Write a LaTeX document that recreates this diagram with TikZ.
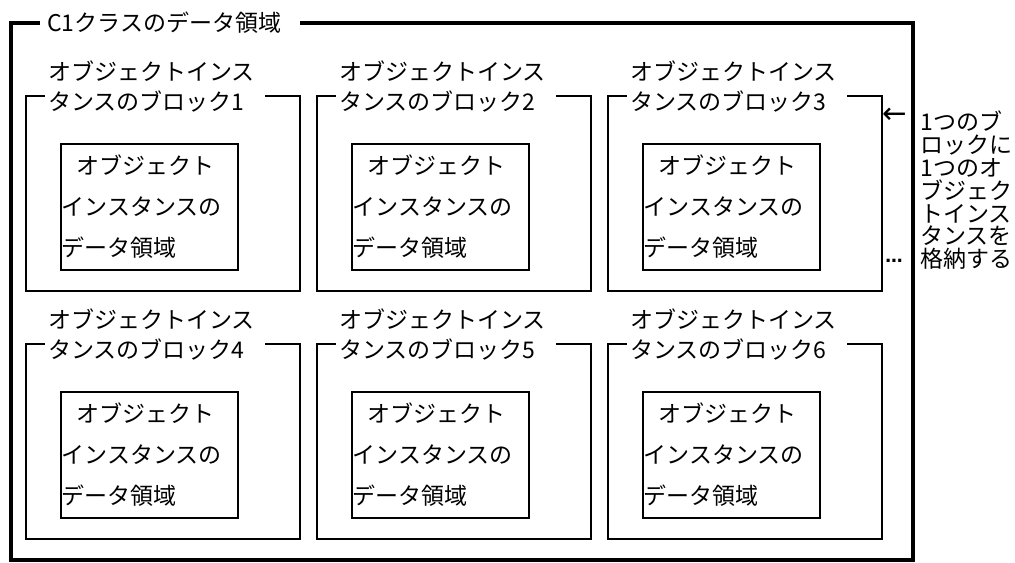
\documentclass[tikz,border=0pt]{standalone}
\usepackage{fontspec}
\setmainfont{Noto Sans CJK JP}
\newfontfamily\symfont{DejaVu Sans}
\usetikzlibrary{positioning}
\tikzset{
  blockbox/.style={draw=black,line width=1.2pt,minimum width=205.5pt,
    minimum height=146.25pt,inner sep=0pt},
  areabox/.style={draw=black,line width=1.2pt,minimum width=132.75pt,
    minimum height=94.5pt,inner xsep=0.75pt,inner ysep=0pt,text width=131.25pt,
    align=left,font=\fontsize{17.25}{30.75}\selectfont},
  blocklabel/.style={fill=white,inner xsep=2.25pt,inner ysep=0.5pt,
    text width=160.5pt,align=left,font=\fontsize{17.25}{22.5}\selectfont},
  framelabel/.style={fill=white,inner xsep=5.25pt,inner ysep=1pt,
    text width=184.5pt,align=left,font=\fontsize{17.25}{20}\selectfont},
  notetext/.style={inner sep=0pt,align=left,font=\fontsize{17.25}{17.1}\selectfont},
}

\begin{document}
\begin{tikzpicture}[x=0.75pt,y=-0.75pt]
\useasboundingbox (0,0) rectangle (1015,563);
% outer frame
\draw[line width=2.4pt] (11,23) rectangle (913,560);
\node[framelabel,anchor=west] (title) at (40,23) {C1クラスのデータ領域};
% blocks
\node[blockbox,anchor=north west] (blk1) at (25,95) {};
\node[blockbox,right=11.55pt of blk1] (blk2) {};
\node[blockbox,right=11.55pt of blk2] (blk3) {};
\node[blockbox,below=38.55pt of blk1] (blk4) {};
\node[blockbox,below=38.55pt of blk2] (blk5) {};
\node[blockbox,below=38.55pt of blk3] (blk6) {};
% block titles
\node[blocklabel,right=15pt of blk1.north west,yshift=6pt] (lbl1) {オブジェクトインス\\タンスのブロック1};
\node[blocklabel,right=15pt of blk2.north west,yshift=6pt] (lbl2) {オブジェクトインス\\タンスのブロック2};
\node[blocklabel,right=15pt of blk3.north west,yshift=6pt] (lbl3) {オブジェクトインス\\タンスのブロック3};
\node[blocklabel,right=15pt of blk4.north west,yshift=6pt] (lbl4) {オブジェクトインス\\タンスのブロック4};
\node[blocklabel,right=15pt of blk5.north west,yshift=6pt] (lbl5) {オブジェクトインス\\タンスのブロック5};
\node[blocklabel,right=15pt of blk6.north west,yshift=6pt] (lbl6) {オブジェクトインス\\タンスのブロック6};
% data areas
\node[areabox,below right=36pt and 26.25pt of blk1.north west] (area1) {\hspace*{11.25pt}オブジェクト\\インスタンスの\\データ領域};
\node[areabox,below right=36pt and 26.25pt of blk2.north west] (area2) {\hspace*{11.25pt}オブジェクト\\インスタンスの\\データ領域};
\node[areabox,below right=36pt and 26.25pt of blk3.north west] (area3) {\hspace*{11.25pt}オブジェクト\\インスタンスの\\データ領域};
\node[areabox,below right=36pt and 26.25pt of blk4.north west] (area4) {\hspace*{11.25pt}オブジェクト\\インスタンスの\\データ領域};
\node[areabox,below right=36pt and 26.25pt of blk5.north west] (area5) {\hspace*{11.25pt}オブジェクト\\インスタンスの\\データ領域};
\node[areabox,below right=36pt and 26.25pt of blk6.north west] (area6) {\hspace*{11.25pt}オブジェクト\\インスタンスの\\データ領域};
% side note
\node[inner sep=0pt,font=\symfont\fontsize{22}{22}\selectfont] (toblk) at (895,116) {←};
\node[inner sep=0pt,font=\symfont\bfseries\fontsize{13}{13}\selectfont] (more) at (894,261) {…};
\node[notetext,anchor=north west] (note) at (920,111) {1つのブ\\ロックに\\1つのオ\\ブジェク\\トインス\\タンスを\\格納する};
\end{tikzpicture}
\end{document}
